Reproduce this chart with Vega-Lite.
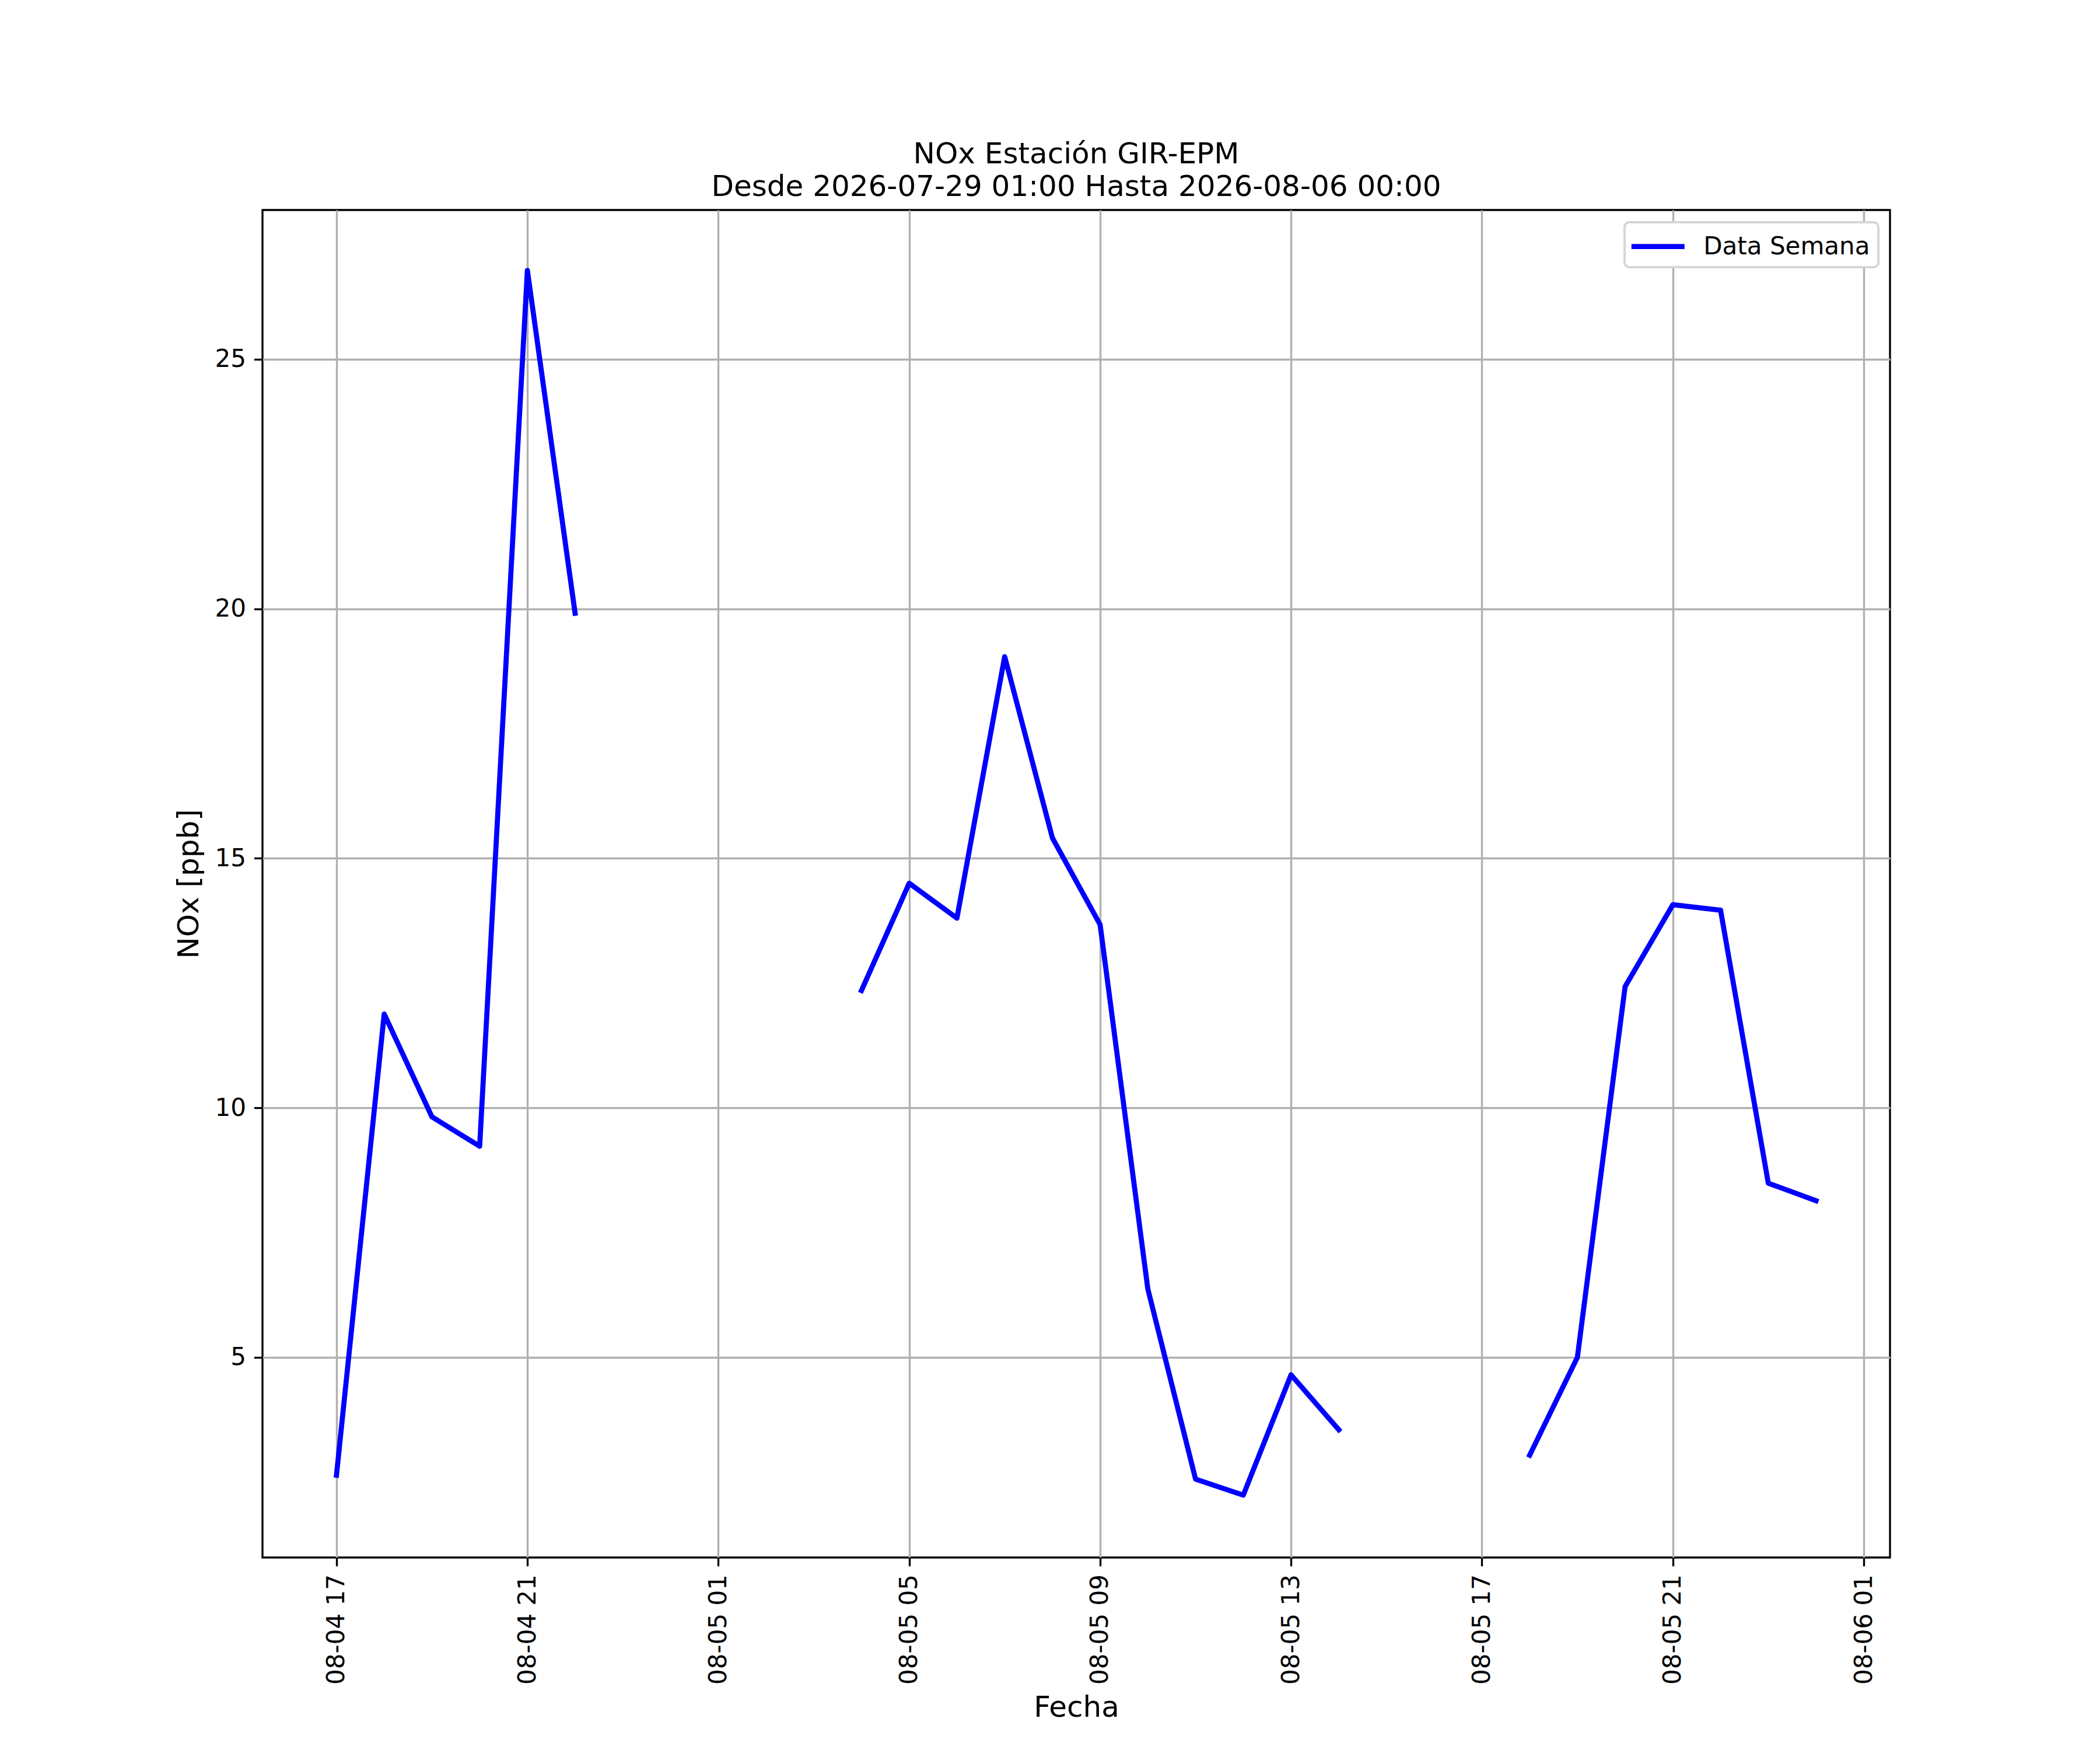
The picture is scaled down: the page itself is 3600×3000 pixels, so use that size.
{
  "$schema": "https://vega.github.io/schema/vega-lite/v6.json",
  "autosize": {"type": "none"},
  "padding": {"left": 450, "top": 360, "right": 360, "bottom": 330},
  "width": 2790,
  "height": 2310,
  "background": "white",
  "title": {
    "text": ["NOx Estación GIR-EPM", "Desde 2026-07-29 01:00 Hasta 2026-08-06 00:00"],
    "anchor": "middle",
    "font": "DejaVu Sans",
    "fontSize": 50,
    "fontWeight": "normal",
    "color": "black",
    "lineHeight": 56,
    "baseline": "bottom",
    "offset": -36
  },
  "data": {
    "values": [
      {"fecha": "2026-08-04T17:00:00", "nox": 2.64},
      {"fecha": "2026-08-04T18:00:00", "nox": 11.88},
      {"fecha": "2026-08-04T19:00:00", "nox": 9.82},
      {"fecha": "2026-08-04T20:00:00", "nox": 9.23},
      {"fecha": "2026-08-04T21:00:00", "nox": 26.78},
      {"fecha": "2026-08-04T22:00:00", "nox": 19.91},
      {"fecha": "2026-08-04T23:00:00", "nox": null},
      {"fecha": "2026-08-05T00:00:00", "nox": null},
      {"fecha": "2026-08-05T01:00:00", "nox": null},
      {"fecha": "2026-08-05T02:00:00", "nox": null},
      {"fecha": "2026-08-05T03:00:00", "nox": null},
      {"fecha": "2026-08-05T04:00:00", "nox": 12.35},
      {"fecha": "2026-08-05T05:00:00", "nox": 14.5},
      {"fecha": "2026-08-05T06:00:00", "nox": 13.8},
      {"fecha": "2026-08-05T07:00:00", "nox": 19.04},
      {"fecha": "2026-08-05T08:00:00", "nox": 15.41},
      {"fecha": "2026-08-05T09:00:00", "nox": 13.67},
      {"fecha": "2026-08-05T10:00:00", "nox": 6.37},
      {"fecha": "2026-08-05T11:00:00", "nox": 2.56},
      {"fecha": "2026-08-05T12:00:00", "nox": 2.24},
      {"fecha": "2026-08-05T13:00:00", "nox": 4.65},
      {"fecha": "2026-08-05T14:00:00", "nox": 3.55},
      {"fecha": "2026-08-05T15:00:00", "nox": null},
      {"fecha": "2026-08-05T16:00:00", "nox": null},
      {"fecha": "2026-08-05T17:00:00", "nox": null},
      {"fecha": "2026-08-05T18:00:00", "nox": 3.04},
      {"fecha": "2026-08-05T19:00:00", "nox": 5.0},
      {"fecha": "2026-08-05T20:00:00", "nox": 12.43},
      {"fecha": "2026-08-05T21:00:00", "nox": 14.07},
      {"fecha": "2026-08-05T22:00:00", "nox": 13.96},
      {"fecha": "2026-08-05T23:00:00", "nox": 8.49},
      {"fecha": "2026-08-06T00:00:00", "nox": 8.14}
    ]
  },
  "mark": {
    "type": "line",
    "strokeWidth": 8.75,
    "strokeCap": "square",
    "strokeJoin": "round",
    "invalid": "break-paths-filter-domains",
    "clip": true
  },
  "encoding": {
    "x": {
      "field": "fecha",
      "type": "temporal",
      "title": "Fecha",
      "scale": {
        "domain": [
          {"year": 2026, "month": 8, "date": 4, "hours": 15, "minutes": 27},
          {"year": 2026, "month": 8, "date": 6, "hours": 1, "minutes": 33}
        ],
        "nice": false
      },
      "axis": {
        "values": [
          {"year": 2026, "month": 8, "date": 4, "hours": 17},
          {"year": 2026, "month": 8, "date": 4, "hours": 21},
          {"year": 2026, "month": 8, "date": 5, "hours": 1},
          {"year": 2026, "month": 8, "date": 5, "hours": 5},
          {"year": 2026, "month": 8, "date": 5, "hours": 9},
          {"year": 2026, "month": 8, "date": 5, "hours": 13},
          {"year": 2026, "month": 8, "date": 5, "hours": 17},
          {"year": 2026, "month": 8, "date": 5, "hours": 21},
          {"year": 2026, "month": 8, "date": 6, "hours": 1}
        ],
        "format": "%m-%d %H",
        "labelAngle": 270,
        "labelAlign": "right",
        "labelBaseline": "middle",
        "labelPadding": 14,
        "labelLimit": 1000,
        "titlePadding": 32
      }
    },
    "y": {
      "field": "nox",
      "type": "quantitative",
      "title": "NOx [ppb]",
      "scale": {"domain": [0.99, 27.99], "nice": false, "zero": false},
      "axis": {
        "values": [5, 10, 15, 20, 25],
        "labelPadding": 14,
        "titlePadding": 18
      }
    },
    "color": {
      "datum": "Data Semana",
      "type": "nominal",
      "scale": {"range": ["#0000ff"]},
      "legend": {
        "title": null,
        "orient": "none",
        "legendX": 2335,
        "legendY": 21,
        "symbolType": "M-2,0H2",
        "symbolSize": 2070,
        "symbolOffset": 15.75,
        "symbolStrokeWidth": 8.75,
        "symbolStrokeColor": "#0000ff",
        "labelOffset": 50.5,
        "labelFontSize": 42,
        "labelFont": "DejaVu Sans",
        "labelColor": "black",
        "labelLimit": 1000,
        "padding": 14,
        "fillColor": "white",
        "strokeColor": "#d6d6d6",
        "cornerRadius": 8
      }
    }
  },
  "config": {
    "font": "DejaVu Sans",
    "view": {"stroke": "black", "strokeWidth": 3.33},
    "axis": {
      "domain": false,
      "grid": true,
      "gridColor": "#b0b0b0",
      "gridWidth": 3.33,
      "gridOpacity": 1,
      "ticks": true,
      "tickColor": "black",
      "tickWidth": 3.33,
      "tickSize": 14.6,
      "labelFont": "DejaVu Sans",
      "labelFontSize": 42,
      "labelColor": "black",
      "titleFont": "DejaVu Sans",
      "titleFontSize": 50,
      "titleFontWeight": "normal",
      "titleColor": "black"
    },
    "legend": {"strokeWidth": 4}
  }
}
